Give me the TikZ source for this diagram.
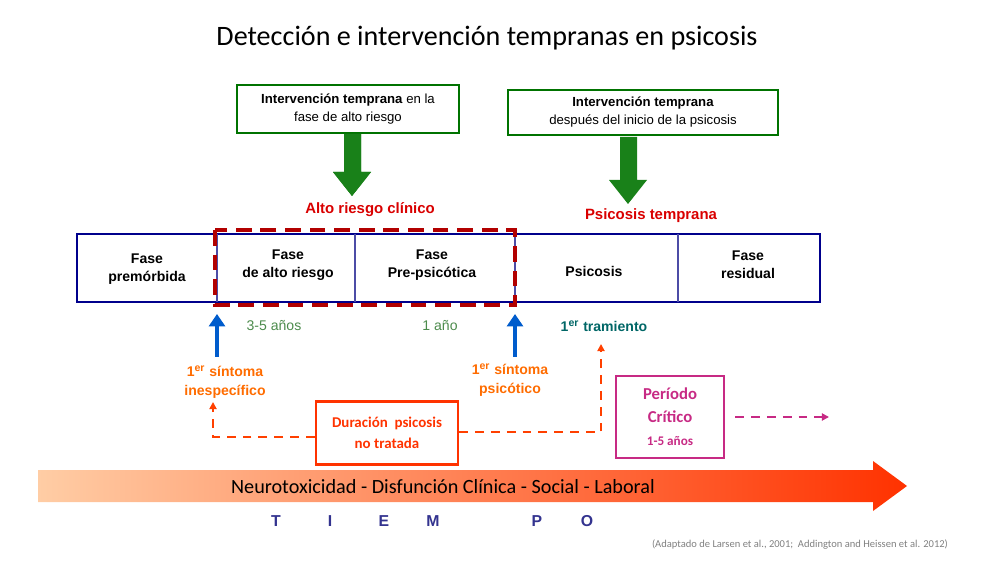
\documentclass[tikz,border=0pt]{standalone}
\usepackage{fontspec}
\setmainfont{Carlito}
\newfontfamily\arialf{Liberation Sans}
\begin{document}
\begin{tikzpicture}[x=0.02cm,y=-0.02cm,
  gbox/.style={draw=green!45!black,line width=1.2pt,fill=white,inner sep=0},
  lbl/.style={font=\arialf\bfseries\fontsize{8}{10}\selectfont,align=center},
  garrow/.style={fill=green!50!black,draw=none},
  bluearr/.style={draw=blue!60!cyan!70!black,line width=2pt,-{Triangle[length=7pt,width=9pt]}},
  odash/.style={draw=orange!80!red,dashed,line width=1.1pt,dash pattern=on 5pt off 4pt},
]
\usetikzlibrary{arrows.meta}
\useasboundingbox (0,0) rectangle (1000,563);
\node[font=\fontsize{16}{18}\selectfont] (title) at (487,38) {Detección e intervención tempranas en psicosis};
% green boxes
\draw[gbox] (237,85) rectangle (459,133);
\node[lbl,font=\arialf\fontsize{7.5}{10}\selectfont] (g1) at (348,109) {\textbf{Intervención temprana} en la\\fase de alto riesgo};
\draw[gbox] (508,90) rectangle (778,135);
\node[lbl,font=\arialf\fontsize{7.5}{10}\selectfont] (g2) at (643,112) {\textbf{Intervención temprana}\\después del inicio de la psicosis};
\fill[green!45!black!90] (344,134) rectangle (361,172) -- (371,172) -- (352,196) -- (333,172) -- (344,172) -- cycle;
\fill[green!45!black!90] (344,134) -- (361,134) -- (361,172) -- (371,172) -- (352,196) -- (333,172) -- (344,172) -- cycle;
\fill[green!45!black!90] (620,137) -- (637,137) -- (637,180) -- (647,180) -- (628,204) -- (609,180) -- (620,180) -- cycle;
\node[font=\arialf\bfseries\fontsize{8.5}{10}\selectfont,text=red!85!black] (arc) at (370,210) {Alto riesgo clínico};
\node[font=\arialf\bfseries\fontsize{8.5}{10}\selectfont,text=red!85!black] (pt) at (651,216) {Psicosis temprana};
% main bar
\draw[draw=blue!55!black,line width=1.5pt] (77,234) rectangle (820,302);
\foreach \x in {217,355,515,678} \draw[blue!50!black!70,line width=0.8pt] (\x,234) -- (\x,302);
\node[lbl] (f1) at (147,269) {Fase\\premórbida};
\node[lbl] (f2) at (288,265) {Fase\\de alto riesgo};
\node[lbl] (f3) at (432,265) {Fase\\Pre-psicótica};
\node[lbl] (f4) at (594,271) {Psicosis};
\node[lbl] (f5) at (748,265) {Fase\\residual};
\draw[red!70!black,line width=2.5pt,dash pattern=on 9pt off 5pt] (215,230) rectangle (515,305);
% blue arrows
\coordinate (b1s) at (217,357); \coordinate (b1e) at (217,314);
\coordinate (b2s) at (515,357); \coordinate (b2e) at (515,314);
\draw[bluearr,draw=blue!55!cyan!80!black] (b1s) -- (b1e);
\draw[bluearr,draw=blue!55!cyan!80!black] (b2s) -- (b2e);
\node[font=\arialf\fontsize{8}{10}\selectfont,text=green!35!black!70] (y1) at (274,326) {3-5 años};
\node[font=\arialf\fontsize{8}{10}\selectfont,text=green!35!black!70] (y2) at (440,326) {1 año};
\node[font=\arialf\bfseries\fontsize{8}{10}\selectfont,text=teal!80!black] (tr) at (604,326) {1\textsuperscript{er} tramiento};
\node[lbl,font=\arialf\bfseries\fontsize{8}{11}\selectfont,text=orange!85!red] (s1) at (225,382) {1\textsuperscript{er} síntoma\\inespecífico};
\node[lbl,font=\arialf\bfseries\fontsize{8}{11}\selectfont,text=orange!85!red] (s2) at (510,380) {1\textsuperscript{er} síntoma\\psicótico};
% duration box
\node[draw=orange!40!red,line width=1.5pt,minimum width=142*0.02cm,minimum height=63*0.02cm,
  font=\bfseries\fontsize{8.5}{12}\selectfont,text=orange!40!red,align=center] (dur) at (387,433) {Duración\ \ psicosis\\no tratada};
\coordinate (c1) at (213,437); \coordinate (c1e) at (213,402);
\coordinate (c2) at (601,432); \coordinate (c2e) at (601,344);
\draw[odash,draw=orange!50!red,-{Triangle[length=4pt,width=4pt]}] (dur.west |- c1) -- (c1) -- (c1e);
\draw[odash,draw=orange!50!red,-{Triangle[length=4pt,width=4pt]}] (dur.east |- c2) -- (c2) -- (c2e);
% periodo critico
\node[draw=magenta!80!black,line width=1.5pt,minimum width=108*0.02cm,minimum height=82*0.02cm,
  font=\bfseries\fontsize{9.5}{13}\selectfont,text=magenta!80!black,align=center] (pc) at (670,417) {Período\\Crítico\\{\fontsize{7.5}{10}\selectfont 1-5 años}};
\coordinate (pce) at (829,417);
\draw[magenta!80!black,line width=1.1pt,dash pattern=on 5pt off 4pt,-{Triangle[length=4pt,width=4pt]}] ([xshift=0.2cm]pc.east) -- (pce);
% gradient arrow
\shade[left color={rgb,255:red,255;green,205;blue,165},right color={rgb,255:red,255;green,50;blue,0}]
  (38,470) -- (873,470) -- (873,461) -- (907,486) -- (873,511) -- (873,502) -- (38,502) -- cycle;
\node[font=\fontsize{11.5}{13}\selectfont] (neuro) at (443,487) {Neurotoxicidad - Disfunción Clínica - Social - Laboral};
\foreach \l/\x in {T/276,I/330,E/384,M/433,P/537,O/587}
  \node[font=\arialf\bfseries\fontsize{9}{10}\selectfont,text=blue!45!black!80] at (\x,521) {\l};
\node[font=\fontsize{6}{7}\selectfont,text=gray] (cite) at (800,545) {(Adaptado de Larsen et al., 2001;\ \ Addington and Heissen et al. 2012)};
\end{tikzpicture}
\end{document}
